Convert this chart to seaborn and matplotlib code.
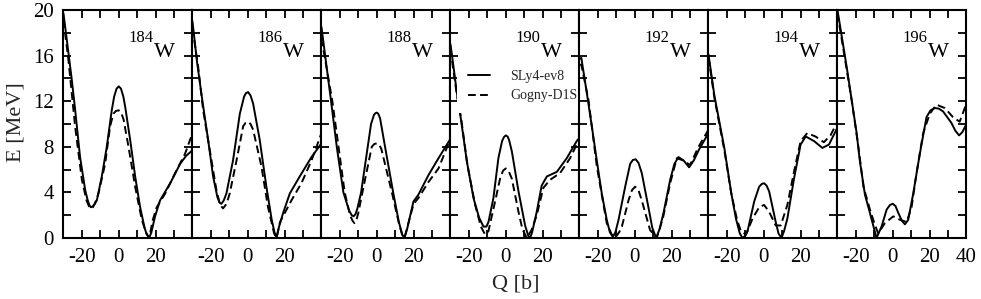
import pandas as pd
import seaborn as sns
import matplotlib.pyplot as plt
from matplotlib.lines import Line2D
from matplotlib.ticker import FixedLocator

nuclei = [184, 186, 188, 190, 192, 194, 196]
models = ["SLy4-ev8", "Gogny-D1S"]

# 184W
q184_sly = [-30, -28.2, -25.5, -23.7, -21, -18.2, -17, -16, -15.2, -14.3, -13, -11.9, -9.2, -6.5, -3.8, -2.5, -1.2, 0, 1.2, 2.5, 3.5, 6.2, 8.9, 11.6, 14, 15, 16.5, 17.7, 19.7, 22.4, 27.9, 33.3, 36.5, 40]
e184_sly = [19.7, 17.4, 13.9, 11.3, 7.1, 4.2, 3.4, 2.9, 2.7, 2.75, 3.0, 3.3, 5.4, 8.0, 11.2, 12.4, 13.1, 13.3, 13.1, 12.4, 11.5, 8.6, 5.4, 2.7, 0.9, 0.4, 0, 0.5, 1.9, 3.3, 4.8, 6.5, 7.2, 7.7]
q184_gog = [-30, -27.3, -23.7, -20, -17.5, -16.2, -15.2, -14, -13, -11, -7.4, -4.7, -2.9, -1.5, 0, 1.3, 2.6, 5.3, 8.9, 12.5, 15, 16.5, 18.5, 20.6, 25.2, 30.6, 36, 40]
e184_gog = [19.1, 15.6, 9.8, 5.1, 3.3, 2.8, 2.6, 2.7, 3.0, 3.9, 6.5, 9.8, 10.9, 11.15, 11.2, 11.0, 10.4, 8.0, 4.5, 1.6, 0.4, 0, 1.6, 2.7, 3.9, 5.7, 7.4, 9.2]

# 186W
q186_sly = [-30, -27.5, -24.5, -21.5, -18.8, -16.5, -15.3, -14.3, -13, -11.6, -8, -4.3, -2, -1, 0.2, 1.5, 2.9, 6.5, 10.1, 13, 14.5, 15.6, 17, 19.2, 22.8, 28.2, 34.6, 40]
e186_sly = [19.0, 15.4, 11.9, 8.6, 5.4, 3.6, 3.1, 3.0, 3.3, 3.9, 6.8, 10.9, 12.4, 12.7, 12.8, 12.5, 11.8, 8.6, 4.5, 1.6, 0.5, 0, 1.0, 2.2, 3.9, 5.4, 7.1, 8.3]
q186_gog = [-30, -26.9, -24.2, -20.6, -17, -15, -13.4, -11.5, -9.8, -6.1, -2.5, -1.2, 0.2, 1.5, 2.9, 7.4, 11, 14.3, 15.6, 17.5, 20.1, 23.7, 29.1, 34.6, 40]
e186_gog = [18.4, 15.0, 11.2, 7.7, 4.2, 2.9, 2.6, 3.0, 3.9, 6.8, 9.8, 10.1, 10.2, 10.0, 9.5, 6.3, 2.7, 0.4, 0, 1.4, 2.2, 3.3, 4.8, 6.8, 9.2]

# 188W
q188_sly = [-30, -28, -24.8, -21.7, -18.1, -15, -13.6, -12.6, -11.5, -10.5, -8.5, -4.9, -3.1, -1.5, -0.7, 0, 0.8, 1.8, 4.5, 8.9, 12, 13.8, 15, 16.5, 19.9, 22.6, 28, 33.5, 40]
e188_sly = [18.5, 16.0, 12.0, 8.0, 4.0, 2.4, 2.0, 1.9, 2.1, 2.6, 4.0, 8.0, 10.0, 10.8, 10.95, 11.0, 10.9, 10.5, 8.0, 4.0, 1.4, 0.3, 0, 0.8, 3.2, 3.8, 5.5, 7.0, 8.7]
q188_gog = [-30, -24.1, -17.4, -14.5, -13.1, -12.1, -11, -10, -7.8, -2.7, -1.3, 0, 1.3, 2.5, 8.2, 12, 13.8, 15, 17.5, 20, 22.6, 28, 33.5, 40]
e188_gog = [17.5, 12.0, 4.0, 2.0, 1.5, 1.3, 1.6, 2.2, 4.0, 8.0, 8.25, 8.3, 8.2, 7.8, 4.0, 1.3, 0.3, 0, 1.5, 3.0, 3.5, 4.9, 6.1, 8.7]

# 190W
q190_sly = [-30, -28.5, -26.5, -24.4, -21.1, -17.5, -14.5, -12.1, -10.5, -9.4, -6.7, -4, -2, -1, 0, 1, 1.8, 3.3, 6.9, 10.5, 12.2, 13.2, 14.3, 16.8, 19.5, 22.3, 27.7, 33.1, 38.5, 40]
e190_sly = [17.0, 15.2, 12.7, 10.5, 6.7, 3.5, 1.8, 1.0, 1.0, 1.4, 3.5, 7.0, 8.5, 8.85, 9.0, 8.9, 8.6, 7.6, 4.1, 1.1, 0.2, 0, 0.5, 2.3, 4.6, 5.4, 5.8, 7.0, 8.5, 8.8]
q190_gog = [-30, -28.5, -26.5, -24.2, -20.8, -16.6, -13.5, -11.2, -9.4, -5.8, -3.1, -1.5, 0, 1.5, 3.3, 6.9, 9, 11.4, 14, 16.8, 20.4, 24, 29.5, 34.9, 39.4, 40]
e190_gog = [16.6, 14.8, 12.5, 10.5, 6.4, 2.9, 1.0, 0.3, 0.6, 3.2, 5.2, 5.9, 6.1, 5.9, 5.2, 2.3, 0.8, 0, 0.7, 2.0, 4.4, 5.1, 5.7, 7.0, 8.5, 8.7]

# 192W
q192_sly = [-30, -29, -26, -23.3, -20.6, -17.9, -15.2, -13.5, -11.9, -10.5, -8.8, -5.2, -2.5, -1, 0.5, 2, 3.8, 7.4, 9.5, 11.6, 13.5, 15.6, 19.2, 21.5, 23.7, 26.5, 29.5, 32, 35, 40]
e192_sly = [15.7, 15.8, 12.7, 9.8, 6.8, 3.9, 1.6, 0.5, 0.1, 0.5, 1.6, 4.5, 6.5, 6.85, 6.9, 6.6, 5.7, 2.7, 0.9, 0, 0.8, 2.2, 5.1, 6.5, 7.1, 6.8, 6.2, 6.8, 7.8, 9.2]
q192_gog = [-30, -29, -25.1, -20.6, -15.2, -12.5, -10.7, -8.5, -7, -3.4, -1.5, 0.2, 2, 3.8, 8.3, 11.9, 13.5, 15.5, 19.2, 22.8, 26.4, 30, 34.6, 40]
e192_gog = [15.2, 15.2, 12.1, 6.3, 1.3, 0.3, 0, 0.5, 1.0, 3.3, 4.2, 4.5, 4.2, 3.3, 0.7, 0, 0.8, 1.9, 4.8, 7.0, 6.8, 6.4, 8.0, 9.5]

# 194W
q194_sly = [-30, -26.8, -24.1, -21.4, -17.8, -15.1, -13, -11.5, -10, -8.8, -5.2, -2.5, -1, 0.2, 1.5, 2.9, 6.5, 8, 9.6, 11, 12.8, 16.4, 20, 22.8, 27.3, 31.8, 35.4, 40]
e194_sly = [16.1, 12.5, 10.2, 7.9, 4.1, 1.7, 0.4, 0, 0.2, 0.6, 3.2, 4.5, 4.75, 4.8, 4.6, 4.1, 1.4, 0.4, 0, 0.6, 1.7, 5.2, 8.2, 8.9, 8.5, 7.9, 8.2, 9.7]
q194_gog = [-30, -26.8, -21.4, -17.5, -14.5, -12.4, -9.7, -6.1, -2.5, 0.2, 2.9, 6.5, 9.2, 12.8, 16.4, 20, 23.6, 28.1, 32.6, 36.2, 40]
e194_gog = [15.9, 12.3, 7.7, 3.8, 1.6, 0.6, 0.3, 1.7, 2.7, 2.9, 2.3, 1.1, 1.1, 2.9, 5.8, 8.5, 9.2, 8.9, 8.4, 9.0, 10.2]

# 196W
q196_sly = [-30, -27.7, -25, -22.3, -19.6, -17.9, -15.1, -12.4, -8.8, -6.1, -3.3, -1.5, 0, 1.5, 3, 5, 6.6, 8.4, 11.1, 14.7, 18.3, 20.5, 22.8, 25, 27.3, 31.8, 34, 36, 37.8, 40]
e196_sly = [20.0, 17.7, 15.0, 12.1, 9.2, 6.8, 3.8, 2.2, 0, 1.0, 2.5, 2.9, 3.0, 2.8, 2.2, 1.5, 1.2, 1.6, 3.9, 7.4, 10.6, 11.2, 11.4, 11.35, 11.1, 10.1, 9.4, 9.0, 9.3, 10.0]
q196_gog = [-30, -22.3, -18.5, -15.9, -12.4, -10, -7.9, -4.3, 0.3, 3.9, 7.5, 10.2, 12.9, 16.5, 20.1, 23.7, 28.2, 32.7, 36.3, 40]
e196_gog = [19.7, 12.1, 7.8, 4.5, 2.5, 1.3, 0.4, 1.3, 1.9, 1.6, 1.4, 2.7, 5.7, 9.2, 10.9, 11.7, 11.4, 10.6, 10.2, 11.8]

curves = {
    184: [(q184_sly, e184_sly), (q184_gog, e184_gog)],
    186: [(q186_sly, e186_sly), (q186_gog, e186_gog)],
    188: [(q188_sly, e188_sly), (q188_gog, e188_gog)],
    190: [(q190_sly, e190_sly), (q190_gog, e190_gog)],
    192: [(q192_sly, e192_sly), (q192_gog, e192_gog)],
    194: [(q194_sly, e194_sly), (q194_gog, e194_gog)],
    196: [(q196_sly, e196_sly), (q196_gog, e196_gog)],
}

rows = []
for n in nuclei:
    for model, (qs, es) in zip(models, curves[n]):
        for q, e in zip(qs, es):
            rows.append({"nucleus": n, "model": model, "Q": q, "E": e})
df = pd.DataFrame(rows)

sns.set_theme(style="ticks")
plt.rcParams["font.family"] = ["Liberation Serif", "DejaVu Serif"]
plt.rcParams["axes.unicode_minus"] = False

dash_map = {"SLy4-ev8": "", "Gogny-D1S": (4, 2.2)}
lw = 1.4

fig, axes = plt.subplots(1, 7, figsize=(9.81, 2.99), dpi=100, sharey=True)
fig.subplots_adjust(left=0.0647, right=0.9852, top=0.9666, bottom=0.204, wspace=0)

for i, (ax, n) in enumerate(zip(axes, nuclei)):
    sub = df[df["nucleus"] == n]
    sns.lineplot(data=sub, x="Q", y="E", style="model", style_order=models,
                 dashes=dash_map, color="black", lw=lw, estimator=None,
                 sort=False, legend=False, ax=ax)
    ax.set_xlim(-30, 40)
    ax.set_ylim(0, 20)
    major = [-20, 0, 20, 40] if i == len(nuclei) - 1 else [-20, 0, 20]
    ax.xaxis.set_major_locator(FixedLocator(major))
    ax.xaxis.set_minor_locator(FixedLocator([-10, 10, 30]))
    ax.yaxis.set_major_locator(FixedLocator([0, 4, 8, 12, 16, 20]))
    ax.yaxis.set_minor_locator(FixedLocator([2, 6, 10, 14, 18]))
    ax.tick_params(which="both", direction="in", top=True, right=True,
                   length=6, width=1.3, color="black")
    ax.tick_params(axis="both", labelsize=15, pad=7, colors="black")
    for s in ax.spines.values():
        s.set_linewidth(1.5)
        s.set_color("black")
    ax.set_xlabel("")
    ax.set_ylabel("")
    if i > 0:
        ax.tick_params(axis="y", labelleft=False)
    ax.text(0.70, 0.861, str(n), transform=ax.transAxes, ha="right",
            va="baseline", fontsize=12, color="black")
    ax.text(0.70, 0.7925, "W", transform=ax.transAxes, ha="left",
            va="baseline", fontsize=16, color="black")

handles = [Line2D([], [], color="black", lw=lw, linestyle="-"),
           Line2D([], [], color="black", lw=lw, dashes=(4, 2.2))]
leg = axes[3].legend(handles, models, loc="upper left", bbox_to_anchor=(0.05, 0.785),
                     borderaxespad=0, frameon=True, fontsize=10, borderpad=0.8,
                     handlelength=1.6, handletextpad=1.45, labelspacing=0.45)
leg.get_frame().set_facecolor("white")
leg.get_frame().set_edgecolor("none")
leg.get_frame().set_alpha(1)

fig.text(0.526, 0.05, "Q [b]", ha="center", va="center", fontsize=16)
fig.text(0.0168, 0.59, "E [MeV]", ha="center", va="center", rotation=90, fontsize=16)

fig.savefig("out.png", dpi=100)
